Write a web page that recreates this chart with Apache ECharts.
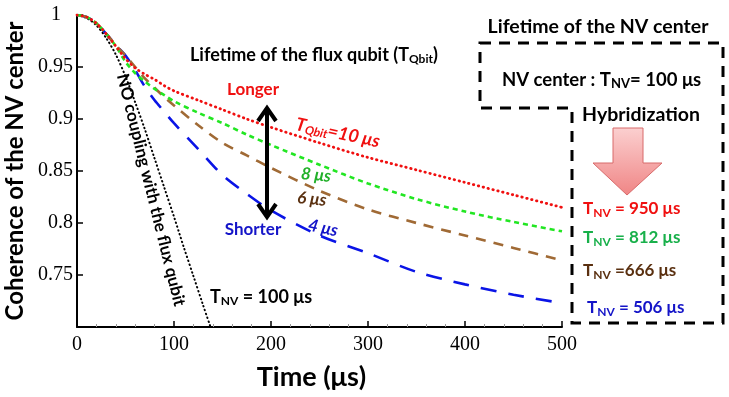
<!DOCTYPE html>
<html>
<head>
<meta charset="utf-8">
<script src="https://cdn.jsdelivr.net/npm/echarts@6/dist/echarts.min.js"></script>
<style>
    html, body { margin: 0; padding: 0; background: #fff; }
    #chart { width: 729px; height: 397px; }
</style>
</head>
<body>
<div id="chart"></div>
<script>
// time (μs) and coherence
var tBlack = [0, 10, 20, 30, 40, 50, 60, 70, 80, 90, 100, 110, 120, 130, 138];
var vBlack = [1, 0.997, 0.990, 0.978, 0.962, 0.941, 0.916, 0.890, 0.862, 0.834, 0.806, 0.777, 0.749, 0.721, 0.699];

var tColor = [0, 10, 20, 30, 40, 50, 60, 70, 80, 90, 100, 125, 150, 175, 200, 250, 300, 350, 400, 450, 500];
var vRed   = [1, 0.998, 0.992, 0.982, 0.970, 0.958, 0.949, 0.943, 0.938, 0.932, 0.927, 0.918, 0.909, 0.900, 0.892, 0.877, 0.863, 0.851, 0.839, 0.827, 0.815];
var vGreen = [1, 0.998, 0.992, 0.982, 0.970, 0.955, 0.944, 0.936, 0.929, 0.923, 0.917, 0.906, 0.896, 0.885, 0.875, 0.856, 0.838, 0.823, 0.811, 0.801, 0.792];
var vBrown = [1, 0.998, 0.992, 0.982, 0.971, 0.961, 0.950, 0.939, 0.930, 0.921, 0.913, 0.894, 0.877, 0.865, 0.853, 0.831, 0.813, 0.800, 0.788, 0.776, 0.764];
var vBlue  = [1, 0.998, 0.992, 0.982, 0.971, 0.961, 0.947, 0.931, 0.918, 0.907, 0.896, 0.871, 0.846, 0.828, 0.812, 0.788, 0.771, 0.753, 0.741, 0.731, 0.723];

var yTicks = ['1', '0.95', '0.9', '0.85', '0.8', '0.75'];

function pairs(ts, vs) {
    return ts.map(function (t, i) { return [t, vs[i]]; });
}

var SANS = 'Lato, "Open Sans", "Noto Sans", sans-serif';
var SERIF = '"Liberation Serif", "DejaVu Serif", serif';

// text with T_NV style subscript
function subText(x, y, main, sub, rest, color, size) {
    return {
        type: 'text', x: x, y: y, z: 100,
        style: {
            text: '{m|' + main + '}{s|' + sub + '}{m|' + rest + '}',
            fill: color,
            align: 'left',
            verticalAlign: 'middle',
            rich: {
                m: {fontFamily: SANS, fontWeight: 'bold', fontSize: size},
                s: {fontFamily: SANS, fontWeight: 'bold', fontSize: Math.round(size * 0.68), padding: [Math.round(size * 0.45), 0, 0, 0]}
            }
        }
    };
}

function plainText(x, y, text, color, size, opts) {
    opts = opts || {};
    return {
        type: 'text', x: x, y: y, rotation: opts.rotation || 0, z: 100,
        style: {
            text: text, fill: color,
            font: (opts.italic ? 'italic ' : '') + 'bold ' + size + 'px ' + SANS,
            align: opts.align || 'left',
            verticalAlign: 'middle'
        }
    };
}

var chart = echarts.init(document.getElementById('chart'), null, {renderer: 'canvas'});

var option = {
    animation: false,
    backgroundColor: '#fff',
    grid: {left: 77, right: 167, top: 15, bottom: 70, outerBoundsMode: 'none', containLabel: false},
    xAxis: {
        type: 'value',
        min: 0, max: 500, interval: 100,
        name: 'Time (μs)',
        nameLocation: 'middle',
        nameGap: 37,
        nameTextStyle: {fontFamily: SANS, fontWeight: 'bold', fontSize: 27, color: '#000', padding: [0, 16, 0, 0]},
        axisLine: {lineStyle: {color: '#000', width: 2}},
        axisTick: {inside: true, length: 6, lineStyle: {color: '#000', width: 1.5}},
        minorTick: {show: true, splitNumber: 5, length: 3, lineStyle: {color: '#999', width: 1}},
        axisLabel: {fontFamily: SERIF, fontSize: 20, color: '#000', margin: 8},
        splitLine: {show: false}
    },
    yAxis: {
        type: 'value',
        min: 0.7, max: 1, interval: 0.05,
        name: 'Coherence of the NV center',
        nameLocation: 'middle',
        nameGap: 44,
        nameTextStyle: {fontFamily: SANS, fontWeight: 'bold', fontSize: 24, color: '#000'},
        axisLine: {show: true, lineStyle: {color: '#000', width: 2}},
        axisTick: {inside: true, length: 6, lineStyle: {color: '#000', width: 1.5}},
        axisLabel: {
            fontFamily: SERIF, fontSize: 20, color: '#000', margin: 4,
            formatter: function (v) {
                var s = String(+v.toFixed(2));
                if (s === '1') return '{one|1}';
                return yTicks.indexOf(s) >= 0 ? s : '';
            },
            rich: {
                one: {fontFamily: SERIF, fontSize: 20, color: '#000', padding: [0, 12, 0, 0]}
            }
        },
        splitLine: {show: false}
    },
    series: [
        {
            name: 'no coupling', type: 'line', data: pairs(tBlack, vBlack),
            showSymbol: false, smooth: 0.3,
            lineStyle: {color: '#000', width: 2, type: [0.5, 3.5], cap: 'round'}
        },
        {
            name: '4 μs', type: 'line', data: pairs(tColor, vBlue),
            showSymbol: false, smooth: 0.3,
            lineStyle: {color: '#0a14e6', width: 2.6, type: [16, 12]}
        },
        {
            name: '6 μs', type: 'line', data: pairs(tColor, vBrown),
            showSymbol: false, smooth: 0.3,
            lineStyle: {color: '#a06a35', width: 2.6, type: [10, 8]}
        },
        {
            name: '8 μs', type: 'line', data: pairs(tColor, vGreen),
            showSymbol: false, smooth: 0.3,
            lineStyle: {color: '#22e622', width: 2.6, type: [5, 4]}
        },
        {
            name: '10 μs', type: 'line', data: pairs(tColor, vRed),
            showSymbol: false, smooth: 0.3,
            lineStyle: {color: '#f01010', width: 2.8, type: [0.5, 4.5], cap: 'round'}
        }
    ],
    graphic: [
        // flux qubit annotations
        subText(190, 55, 'Lifetime of the flux qubit (T', 'Qbit', ')', '#000', 18),
        plainText(253, 90, 'Longer', '#f01010', 17, {align: 'center'}),
        plainText(253, 230, 'Shorter', '#1414c8', 17, {align: 'center'}),
        {
            type: 'line', z: 100,
            shape: {x1: 267, y1: 110, x2: 267, y2: 215},
            style: {stroke: '#000', lineWidth: 4}
        },
        {
            type: 'polyline', z: 100,
            shape: {points: [[258, 121], [267, 108], [276, 121]]},
            style: {stroke: '#000', lineWidth: 4, fill: null}
        },
        {
            type: 'polyline', z: 100,
            shape: {points: [[258, 204], [267, 217], [276, 204]]},
            style: {stroke: '#000', lineWidth: 4, fill: null}
        },
        {
            type: 'text', x: 296, y: 124, rotation: -12 * Math.PI / 180, z: 100,
            style: {
                text: '{m|T}{s|Qbit}{m|=10 μs}', fill: '#f01010', align: 'left', verticalAlign: 'middle',
                rich: {
                    m: {fontFamily: SANS, fontWeight: 'bold', fontStyle: 'italic', fontSize: 18},
                    s: {fontFamily: SANS, fontWeight: 'bold', fontStyle: 'italic', fontSize: 12, padding: [8, 0, 0, 0]}
                }
            }
        },
        plainText(316, 175, '8 μs', '#22b02a', 17, {align: 'center', italic: true, rotation: -6 * Math.PI / 180}),
        plainText(312, 199, '6 μs', '#5a3010', 17, {align: 'center', italic: true, rotation: -6 * Math.PI / 180}),
        plainText(323, 228, '4 μs', '#1414c8', 17, {align: 'center', italic: true, rotation: -12 * Math.PI / 180}),
        plainText(151, 190, 'NO coupling with the flux qubit', '#000', 17, {align: 'center', rotation: -76 * Math.PI / 180}),
        subText(210, 297, 'T', 'NV', ' = 100 μs', '#000', 18),

        // NV center box
        plainText(598, 27, 'Lifetime of the NV center', '#000', 19.5, {align: 'center'}),
        {
            type: 'polygon', z: 90,
            shape: {points: [[480, 43], [723, 43], [723, 323], [572, 323], [572, 108], [480, 108]]},
            style: {stroke: '#000', lineWidth: 3, lineDash: [11, 8], fill: null}
        },
        subText(502, 80, 'NV center : T', 'NV', '= 100 μs', '#000', 18.5),
        plainText(641, 115, 'Hybridization', '#000', 19.5, {align: 'center'}),
        {
            type: 'polygon', z: 95,
            shape: {points: [[613, 128], [643, 128], [643, 163], [662, 163], [627, 195], [593, 163], [613, 163]]},
            style: {
                stroke: '#d86a6a', lineWidth: 1,
                fill: new echarts.graphic.LinearGradient(0, 0, 0, 1, [
                    {offset: 0, color: '#fbd0d0'},
                    {offset: 1, color: '#f08585'}
                ])
            }
        },
        subText(583, 209, 'T', 'NV', ' = 950 μs', '#f01010', 17),
        subText(583, 238, 'T', 'NV', ' = 812 μs', '#18b04a', 17),
        subText(583, 271, 'T', 'NV', ' =666 μs', '#5a3010', 17),
        subText(587, 308, 'T', 'NV', ' = 506 μs', '#1414c8', 17)
    ]
};

chart.setOption(option);
</script>
</body>
</html>
